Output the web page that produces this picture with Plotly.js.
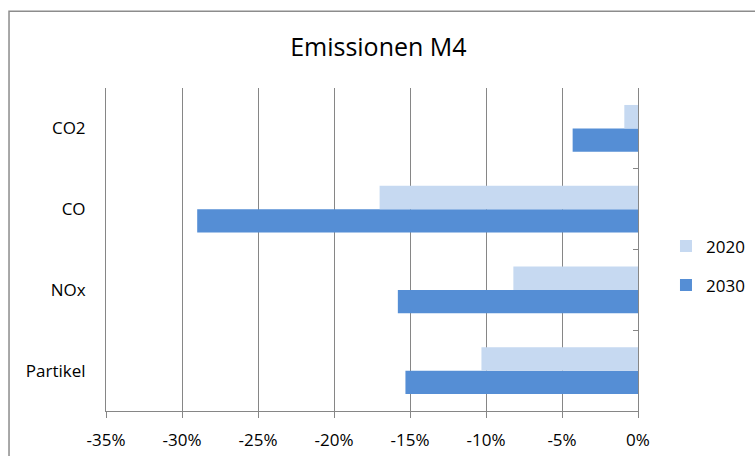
<!DOCTYPE html>
<html>
<head>
<meta charset="utf-8">
<script src="https://cdn.plot.ly/plotly-3.0.1.min.js"></script>
<style>html,body{margin:0;padding:0;background:#fff;}#chart{width:755px;height:456px;}</style>
</head>
<body>
<div id="chart"></div>
<script>
// Data (bottom-to-top order for Plotly category axis)
var categories = ['Partikel', 'NOx', 'CO', 'CO2'];
var values2020 = [-10.3, -8.2, -17.0, -0.9];
var values2030 = [-15.3, -15.8, -29.0, -4.3];
var seriesNames = ['2020', '2030'];
var xTickVals = [-35, -30, -25, -20, -15, -10, -5, 0];
var xTickText = ['-35%', '-30%', '-25%', '-20%', '-15%', '-10%', '-5%', '0%'];
var titleText = 'Emissionen M4';

var FONT = '"Open Sans", Lato, sans-serif';
var GRID = '#868686';
var BAR_W = 0.29;

var traces = [
  {type: 'bar', orientation: 'h', name: seriesNames[0], y: categories, x: values2020,
   yaxis: 'y2', width: BAR_W, offset: 0, legendgroup: 'a',
   marker: {color: '#C6D9F1', line: {width: 0}}},
  {type: 'bar', orientation: 'h', name: seriesNames[1], y: categories, x: values2030,
   yaxis: 'y', width: BAR_W, offset: -BAR_W, legendgroup: 'b',
   marker: {color: '#558ED5', line: {width: 0}}}
];

var layout = {
  width: 755, height: 456,
  margin: {l: 106, r: 117, t: 88, b: 45, autoexpand: false},
  paper_bgcolor: '#ffffff', plot_bgcolor: '#ffffff',
  font: {family: FONT, size: 17, color: '#000000'},
  title: {text: titleText, font: {family: FONT, size: 25, color: '#000'},
          x: 0.512, xanchor: 'center', y: 0.897, yanchor: 'middle', xref: 'paper', yref: 'container'},
  barmode: 'overlay',
  xaxis: {range: [-35, 0], tickvals: xTickVals, ticktext: xTickText,
          showgrid: true, gridcolor: GRID, gridwidth: 1,
          zeroline: false, showline: true, linecolor: GRID, linewidth: 1,
          ticks: 'outside', ticklen: 6, tickcolor: GRID, ticklabelstandoff: 8,
          tickfont: {family: FONT, size: 17, color: '#000'}, fixedrange: true},
  yaxis: {type: 'category', range: [-0.5, 3.5], showgrid: false, zeroline: false,
          showline: true, linecolor: GRID, linewidth: 1,
          ticks: 'outside', ticklen: 16, tickcolor: 'rgba(0,0,0,0)',
          tickfont: {family: FONT, size: 17, color: '#000'}, fixedrange: true},
  yaxis2: {type: 'category', overlaying: 'y', side: 'right', anchor: 'x', range: [-0.5, 3.5],
           showgrid: false, zeroline: false, showline: true, linecolor: GRID, linewidth: 1,
           ticks: 'inside', tickson: 'boundaries', ticklen: 5, tickcolor: GRID,
           showticklabels: false, fixedrange: true},
  legend: {x: 1.0526, xanchor: 'left', y: 0.449, yanchor: 'middle', traceorder: 'grouped',
           font: {family: FONT, size: 17, color: '#000'}, bgcolor: 'rgba(0,0,0,0)',
           itemwidth: 30, tracegroupgap: 14},
  showlegend: true,
  shapes: [{type: 'rect', xref: 'paper', yref: 'paper', x0: -0.1823, x1: 1.23, y0: -0.19, y1: 1.238,
            line: {color: '#8c8c8c', width: 1.5}, fillcolor: 'rgba(0,0,0,0)', layer: 'below'}]
};

Plotly.newPlot('chart', traces, layout, {displayModeBar: false, staticPlot: true});
</script>
</body>
</html>
